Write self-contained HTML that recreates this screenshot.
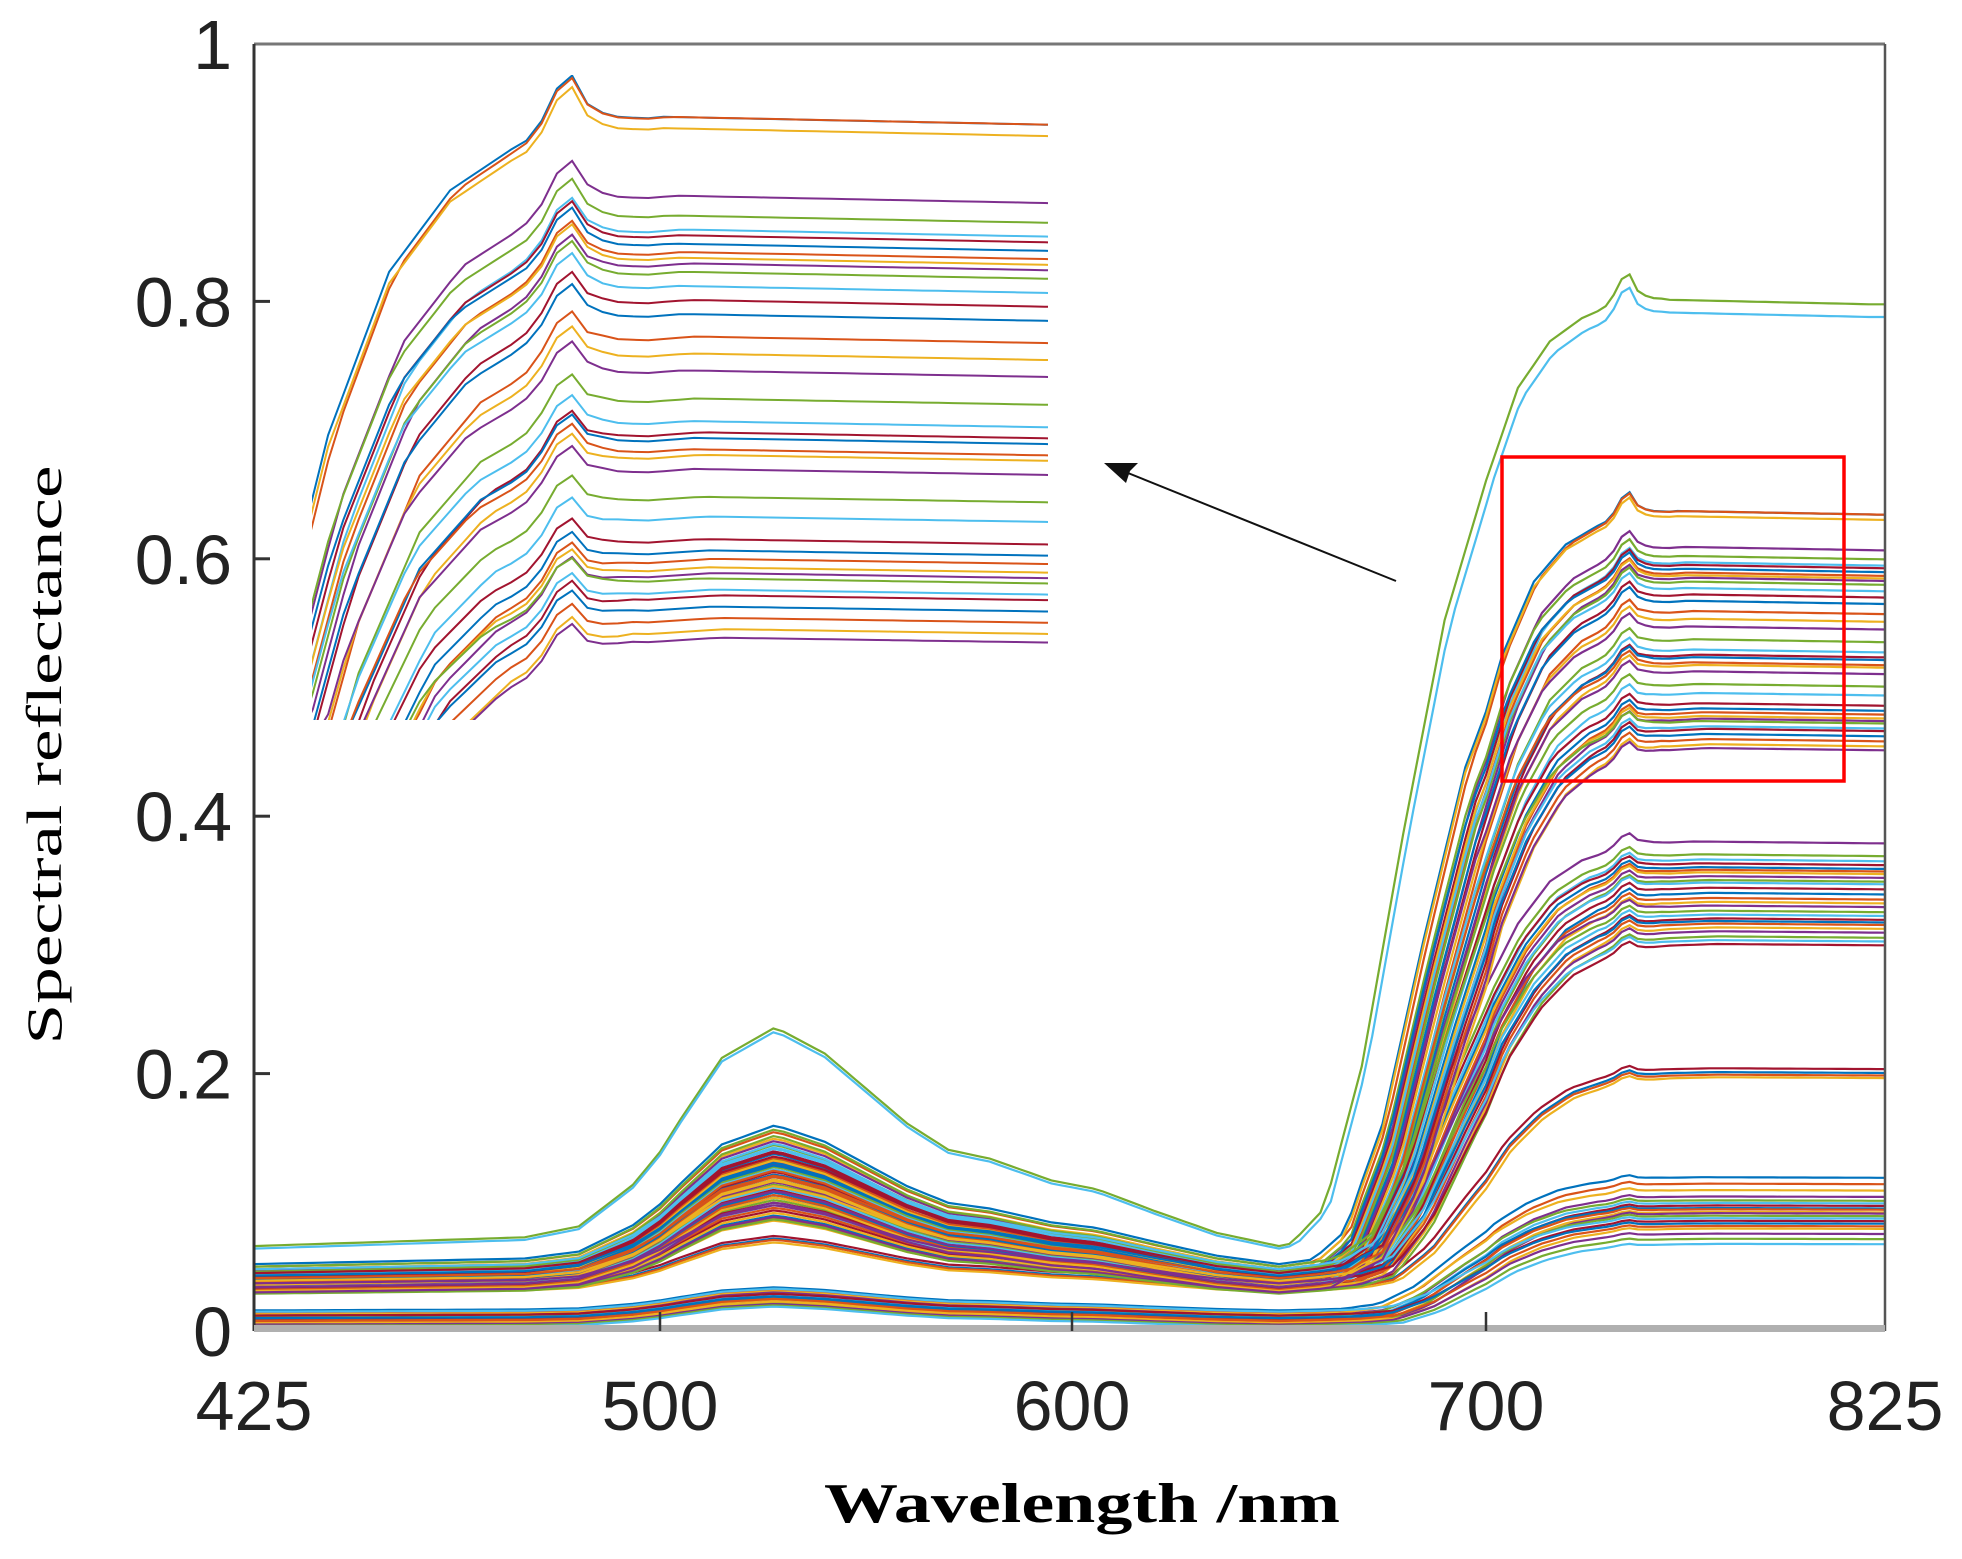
<!DOCTYPE html>
<html><head><meta charset="utf-8">
<style>
html,body{margin:0;padding:0;background:#fff;overflow:hidden;width:1962px;height:1559px;}
svg{display:block;}
</style></head>
<body>
<svg id="chart" width="1962" height="1559" viewBox="0 0 1962 1559" xmlns="http://www.w3.org/2000/svg">
  <defs>
    <clipPath id="plotClip"><rect x="254" y="44" width="1631" height="1287"/></clipPath>
    <clipPath id="insetClip"><rect x="312" y="75" width="736" height="645"/></clipPath>
  </defs>
  <rect x="0" y="0" width="1962" height="1559" fill="#fff"/>
  <g id="mainSeries" clip-path="url(#plotClip)"></g>
  <g id="insetSeries" clip-path="url(#insetClip)"></g>
  <g id="axes"></g>
  <rect x="1502" y="457" width="342" height="324" fill="none" stroke="#ff0000" stroke-width="3.5"/>
  <g>
    <line x1="1396" y1="581" x2="1118" y2="469" stroke="#111" stroke-width="2"/>
    <path d="M1104 463 L1138 463 L1130 471 L1126 483 Z" fill="#111"/>
  </g>
  <text x="44" y="755" transform="rotate(-90 44 755)" text-anchor="middle" dominant-baseline="central" font-family="Liberation Serif, serif" font-size="50" textLength="579" lengthAdjust="spacingAndGlyphs" fill="#000">Spectral reflectance</text>
  <text x="1082" y="1522" text-anchor="middle" font-family="Liberation Serif, serif" font-size="56" font-weight="bold" textLength="516" lengthAdjust="spacingAndGlyphs" fill="#000">Wavelength /nm</text>
</svg>
<script>
// ---- axis data ----
const xTickValues = [425, 500, 600, 700, 825];
const xTickLabels = ["425", "500", "600", "700", "825"];
const yTickValues = [0, 0.2, 0.4, 0.6, 0.8, 1];
const yTickLabels = ["0", "0.2", "0.4", "0.6", "0.8", "1"];
// ---- template spectra ----
const visWl    = [425, 450, 475, 485, 495, 505, 515, 528, 540, 550, 560, 570, 580, 595, 606, 620, 635, 650, 660, 670];
const visShape = [0, 0.02, 0.04, 0.09, 0.28, 0.58, 0.86, 1, 0.88, 0.72, 0.56, 0.44, 0.40, 0.30, 0.26, 0.16, 0.06, 0.0, 0.04, 0.1];
const edgeWl    = [600, 658, 666, 675, 685, 695, 705, 715, 725, 735, 745, 760, 825];
const edgeShape = [0, 0, 0.03, 0.17, 0.42, 0.65, 0.80, 0.90, 0.95, 0.975, 0.99, 0.995, 0.99];
const spikeWl    = [737, 741, 744, 747, 751, 757];
const spikeShape = [0, 0.012, 0.035, 0.012, 0.003, 0];
// ---- curves: base (425nm), peak (528nm), NIR plateau, edge shift (nm) ----
const topBase    = [0.066, 0.064];
const topPeak    = [0.236, 0.233];
const topPlateau = [0.805, 0.795];
const topShift   = [-5, -4];

const grpABase    = [0.052,0.050,0.048,0.047,0.046,0.045,0.044,0.043,0.042,0.041,0.040,0.040,0.039,0.038,0.037,0.036,0.036,0.035,0.034,0.034,0.033,0.032,0.032,0.031,0.030,0.046,0.044,0.042,0.040,0.038,0.036,0.034,0.050,0.048,0.045,0.043,0.041,0.039,0.037];
const grpAPeak    = [0.160,0.155,0.150,0.148,0.145,0.142,0.140,0.138,0.135,0.133,0.130,0.128,0.126,0.124,0.122,0.120,0.118,0.116,0.114,0.112,0.110,0.108,0.106,0.104,0.100,0.152,0.146,0.139,0.131,0.125,0.117,0.109,0.157,0.143,0.136,0.129,0.121,0.113,0.098];
const grpAPlateau = [0.640,0.640,0.636,0.612,0.605,0.600,0.598,0.595,0.592,0.590,0.588,0.585,0.580,0.575,0.570,0.562,0.556,0.550,0.540,0.532,0.528,0.526,0.522,0.520,0.515,0.505,0.498,0.490,0.486,0.483,0.480,0.478,0.476,0.472,0.470,0.466,0.462,0.458,0.455];
const grpAShift   = [0,1,0,2,1,3,2,1,3,2,4,3,2,4,3,5,4,3,5,4,6,5,4,6,5,6,7,6,7,8,7,8,6,8,9,8,9,10,9];

const grpBBase    = [0.045,0.043,0.041,0.040,0.039,0.038,0.037,0.036,0.035,0.034,0.033,0.032,0.031,0.030,0.044,0.042,0.040,0.038,0.036,0.034,0.032,0.030,0.029,0.041,0.037];
const grpBPeak    = [0.140,0.134,0.128,0.122,0.118,0.114,0.110,0.106,0.102,0.098,0.094,0.090,0.088,0.086,0.132,0.126,0.120,0.112,0.104,0.096,0.092,0.089,0.087,0.116,0.100];
const grpBPlateau = [0.382,0.372,0.368,0.365,0.362,0.360,0.358,0.355,0.352,0.350,0.346,0.342,0.338,0.335,0.332,0.328,0.325,0.322,0.320,0.318,0.315,0.312,0.308,0.305,0.302];
const grpBShift   = [5,6,7,6,7,8,7,8,9,8,9,10,9,10,8,9,10,11,10,11,12,11,12,11,12];

const grpCBase    = [0.034,0.032,0.031,0.030];
const grpCPeak    = [0.074,0.072,0.071,0.069];
const grpCPlateau = [0.205,0.202,0.200,0.198];
const grpCShift   = [11,12,12,13];

const grpDBase    = [0.016,0.014,0.013,0.012,0.011,0.010,0.009,0.008,0.007,0.006,0.005,0.004,0.015,0.012,0.010,0.008,0.006,0.005,0.004,0.003];
const grpDPeak    = [0.034,0.032,0.031,0.030,0.029,0.028,0.027,0.026,0.025,0.024,0.023,0.022,0.033,0.029,0.027,0.025,0.023,0.021,0.020,0.019];
const grpDPlateau = [0.120,0.115,0.110,0.105,0.102,0.100,0.098,0.096,0.095,0.093,0.092,0.090,0.088,0.086,0.084,0.082,0.080,0.076,0.072,0.068];
const grpDShift   = [8,9,8,10,9,10,11,9,10,11,12,10,11,12,11,12,13,12,13,14];

const colors = ["#0072BD","#D95319","#EDB120","#7E2F8E","#77AC30","#4DBEEE","#A2142F"];

// ---- scales ----
const xTickPx = [254, 660, 1072, 1486, 1885];
function xScale(w){
  for(let i=0;i<xTickValues.length-1;i++){
    if(w<=xTickValues[i+1]||i===xTickValues.length-2){
      const t=(w-xTickValues[i])/(xTickValues[i+1]-xTickValues[i]);
      return xTickPx[i]+t*(xTickPx[i+1]-xTickPx[i]);
    }
  }
}
const yBottom=1331, yTop=44;
function yScale(v){ return yBottom-(v-0)/(1-0)*(yBottom-yTop); }
function insetX(w){ return 566+(w-744)*6.1; }
function insetY(v){ return 103+(0.642-v)*2828; }

function interp(xs, ys, x){
  if(x<=xs[0]) return ys[0];
  if(x>=xs[xs.length-1]) return ys[ys.length-1];
  for(let i=0;i<xs.length-1;i++){
    if(x<=xs[i+1]){const t=(x-xs[i])/(xs[i+1]-xs[i]);return ys[i]+t*(ys[i+1]-ys[i]);}
  }
}
function spectrum(base, peak, plateau, shift, w){
  const vis = base + (peak-base)*interp(visWl, visShape, w);
  const e = interp(edgeWl, edgeShape, w-shift);
  return vis*(1-e) + plateau*e + plateau*interp(spikeWl, spikeShape, w);
}

const curves=[];
function addGroup(b,p,pl,s){ for(let i=0;i<b.length;i++) curves.push([b[i],p[i],pl[i],s[i]]); }
addGroup(grpDBase,grpDPeak,grpDPlateau,grpDShift);
addGroup(grpCBase,grpCPeak,grpCPlateau,grpCShift);
addGroup(grpBBase,grpBPeak,grpBPlateau,grpBShift);
addGroup(grpABase,grpAPeak,grpAPlateau,grpAShift);
addGroup(topBase,topPeak,topPlateau,topShift);

const NS="http://www.w3.org/2000/svg";
const mainG=document.getElementById('mainSeries');
const insetG=document.getElementById('insetSeries');
curves.forEach((c,k)=>{
  let d='', di='';
  for(let w=425; w<=825.01; w+=2.5){
    const v=spectrum(c[0],c[1],c[2],c[3],w);
    d+=(d?' L':'M')+xScale(w).toFixed(1)+' '+yScale(v).toFixed(1);
    if(w>=695){
      const iy=Math.max(60, Math.min(740, insetY(v)));
      di+=(di?' L':'M')+insetX(w).toFixed(1)+' '+iy.toFixed(1);
    }
  }
  const col=colors[k%colors.length];
  const p=document.createElementNS(NS,'path');
  p.setAttribute('d',d);p.setAttribute('fill','none');p.setAttribute('stroke',col);p.setAttribute('stroke-width','2.2');
  
  
  mainG.appendChild(p);
  if(c[2]>0.4){
    const q=document.createElementNS(NS,'path');
    q.setAttribute('d',di);q.setAttribute('fill','none');q.setAttribute('stroke',col);q.setAttribute('stroke-width','2');
    
    
    insetG.appendChild(q);
  }
});

// ---- axes ----
const ax=document.getElementById('axes');
function el(tag,attrs){const e=document.createElementNS(NS,tag);for(const k in attrs)e.setAttribute(k,attrs[k]);ax.appendChild(e);return e;}
let a;
a=el('line',{x1:254,y1:44,x2:1885,y2:44,stroke:'#777','stroke-width':3});


a=el('line',{x1:1885,y1:44,x2:1885,y2:1331,stroke:'#555','stroke-width':2.5});


a=el('line',{x1:254,y1:44,x2:254,y2:1331,stroke:'#333','stroke-width':3});


a=el('rect',{x:254,y:1325,width:1631,height:7,fill:'#b0b0b0'});


yTickValues.forEach((v,i)=>{
  const y=yScale(v);
  if(i>0&&i<yTickValues.length-1){
    const t=el('line',{x1:254,y1:y,x2:270,y2:y,stroke:'#333','stroke-width':3});
    
    
  }
  const tx=el('text',{x:232,y:y+25,'text-anchor':'end','font-family':'Liberation Sans, sans-serif','font-size':70,fill:'#222'});
  tx.textContent=yTickLabels[i];
  
  
});
xTickValues.forEach((v,i)=>{
  const x=xScale(v);
  if(i>0&&i<xTickValues.length-1){
    const t=el('line',{x1:x,y1:1331,x2:x,y2:1312,stroke:'#333','stroke-width':2.5});
    
    
  }
  const tx=el('text',{x:x,y:1430,'text-anchor':'middle','font-family':'Liberation Sans, sans-serif','font-size':70,fill:'#222'});
  tx.textContent=xTickLabels[i];
  
  
});
</script>
</body></html>
